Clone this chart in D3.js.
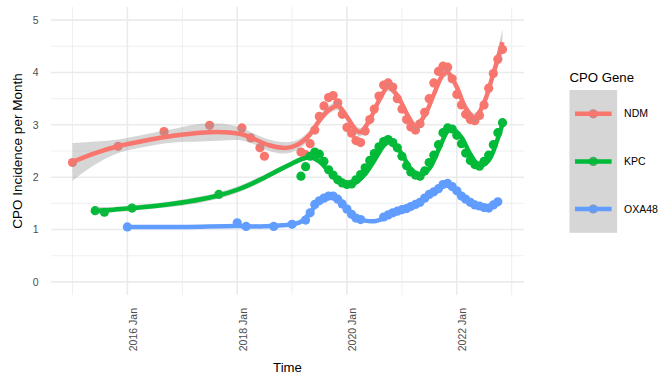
<!DOCTYPE html>
<html>
<head>
<meta charset="utf-8">
<script src="https://cdn.jsdelivr.net/npm/d3@7"></script>
<style>
  html, body { margin: 0; padding: 0; background: #ffffff; }
  svg { display: block; font-family: "Liberation Sans", Arial, sans-serif; }
</style>
</head>
<body>
<svg id="chart" width="659" height="376"></svg>
<script>
// ---- Series: monthly CPO incidence per gene ----
const genes = ["NDM", "KPC", "OXA48"];
const geneColors = ["#F8766D", "#00BA38", "#619CFF"];

const ndmMonths = [
  "2015-01","2015-11","2016-09","2017-07","2018-02","2018-04","2018-06","2018-07",
  "2019-03","2019-04","2019-05","2019-06","2019-07","2019-08","2019-09","2019-10","2019-11","2019-12",
  "2020-01","2020-02","2020-03","2020-04","2020-05","2020-06","2020-07","2020-08","2020-09","2020-10","2020-11","2020-12",
  "2021-01","2021-02","2021-03","2021-04","2021-05","2021-06","2021-07","2021-08","2021-09","2021-10","2021-11","2021-12",
  "2022-01","2022-02","2022-03","2022-04","2022-05","2022-06","2022-07","2022-08","2022-09","2022-10","2022-11"
];
const ndmIncidence = [
  2.28, 2.59, 2.87, 2.99, 2.94, 2.75, 2.56, 2.40,
  2.48, 2.43, 2.64, 2.90, 3.16, 3.36, 3.52, 3.56, 3.42, 3.20,
  2.95, 2.84, 2.70, 2.66, 2.88, 3.10, 3.30, 3.55, 3.76, 3.80, 3.72, 3.50,
  3.30, 3.10, 2.96, 2.90, 3.02, 3.24, 3.50, 3.80, 4.02, 4.12, 4.10, 3.88,
  3.58, 3.38, 3.20, 3.10, 3.08, 3.18, 3.38, 3.70, 3.98, 4.25, 4.44
];

const kpcMonths = [
  "2015-06","2015-08","2016-02","2017-09",
  "2019-03","2019-04","2019-05","2019-06","2019-07","2019-08","2019-09","2019-10","2019-11","2019-12",
  "2020-01","2020-02","2020-03","2020-04","2020-05","2020-06","2020-07","2020-08","2020-09","2020-10","2020-11","2020-12",
  "2021-01","2021-02","2021-03","2021-04","2021-05","2021-06","2021-07","2021-08","2021-09","2021-10","2021-11","2021-12",
  "2022-01","2022-02","2022-03","2022-04","2022-05","2022-06","2022-07","2022-08","2022-09","2022-10","2022-11"
];
const kpcIncidence = [
  1.36, 1.33, 1.41, 1.67,
  2.02, 2.20, 2.40, 2.48, 2.44, 2.30, 2.14, 2.04, 1.95, 1.89,
  1.86, 1.87, 1.95, 2.05, 2.18, 2.32, 2.45, 2.58, 2.68, 2.72, 2.66, 2.56,
  2.40, 2.22, 2.10, 2.04, 2.02, 2.12, 2.28, 2.42, 2.62, 2.85, 2.94, 2.92,
  2.80, 2.64, 2.46, 2.32, 2.24, 2.21, 2.30, 2.42, 2.62, 2.85, 3.04
];

const oxaMonths = [
  "2016-01","2018-01","2018-03","2018-09","2019-01",
  "2019-04","2019-05","2019-06","2019-07","2019-08","2019-09","2019-10","2019-11","2019-12",
  "2020-01","2020-02","2020-03","2020-04","2020-09","2020-10","2020-11","2020-12",
  "2021-01","2021-02","2021-03","2021-04","2021-05","2021-06","2021-07","2021-08","2021-09","2021-10","2021-11","2021-12",
  "2022-01","2022-02","2022-03","2022-04","2022-05","2022-06","2022-07","2022-08","2022-09","2022-10"
];
const oxaIncidence = [
  1.05, 1.13, 1.06, 1.06, 1.10,
  1.18, 1.32, 1.48, 1.55, 1.60, 1.64, 1.64, 1.58, 1.49,
  1.39, 1.29, 1.22, 1.19, 1.24, 1.28, 1.32, 1.35,
  1.38, 1.40, 1.44, 1.48, 1.52, 1.60, 1.67, 1.72, 1.78, 1.86, 1.88, 1.82,
  1.74, 1.64, 1.58, 1.52, 1.47, 1.45, 1.42, 1.41, 1.47, 1.53
];

// ---- Smoothed trend with confidence band (fit, half-width) ----
const ndmFitMonths = [
  "2015-01","2015-06","2015-11","2016-05","2016-11","2017-05","2017-10","2018-02","2018-05","2018-08","2018-11",
  "2019-01","2019-03","2019-05","2019-07","2019-09","2019-11","2020-01","2020-03","2020-04","2020-06","2020-08",
  "2020-10","2020-12","2021-02","2021-04","2021-06","2021-08","2021-10","2021-11","2022-01","2022-03","2022-05",
  "2022-07","2022-09","2022-11"
];
const ndmFit = [
  2.29, 2.46, 2.59, 2.70, 2.79, 2.85, 2.86, 2.82, 2.72, 2.61, 2.56,
  2.58, 2.66, 2.82, 3.08, 3.28, 3.36, 3.15, 2.90, 2.86, 3.10, 3.46,
  3.72, 3.56, 3.22, 2.98, 3.18, 3.58, 3.96, 4.00, 3.72, 3.32, 3.14,
  3.42, 3.98, 4.58
];
const ndmFitSE = [
  0.36, 0.22, 0.13, 0.12, 0.13, 0.17, 0.16, 0.12, 0.10, 0.11, 0.11,
  0.10, 0.09, 0.08, 0.08, 0.08, 0.08, 0.08, 0.08, 0.08, 0.08, 0.08,
  0.08, 0.08, 0.08, 0.08, 0.08, 0.08, 0.08, 0.08, 0.08, 0.08, 0.08,
  0.09, 0.12, 0.25
];

const kpcFitMonths = [
  "2015-06","2015-10","2016-02","2016-08","2017-02","2017-08","2018-01","2018-06","2018-10",
  "2019-01","2019-03","2019-05","2019-07","2019-09","2019-11","2020-01","2020-03","2020-05","2020-07",
  "2020-09","2020-10","2020-11","2021-01","2021-03","2021-05","2021-07","2021-09","2021-11","2021-12",
  "2022-02","2022-04","2022-06","2022-08","2022-10","2022-11"
];
const kpcFit = [
  1.36, 1.38, 1.41, 1.46, 1.53, 1.63, 1.76, 1.95, 2.13,
  2.26, 2.34, 2.38, 2.30, 2.12, 1.96, 1.88, 1.90, 2.06, 2.32,
  2.60, 2.67, 2.66, 2.44, 2.16, 2.04, 2.16, 2.52, 2.88, 2.92,
  2.76, 2.44, 2.22, 2.32, 2.74, 3.02
];
const kpcFitSE = [
  0.07, 0.05, 0.05, 0.05, 0.06, 0.06, 0.06, 0.06, 0.05,
  0.05, 0.05, 0.05, 0.05, 0.05, 0.05, 0.05, 0.05, 0.05, 0.05,
  0.05, 0.05, 0.05, 0.05, 0.05, 0.05, 0.05, 0.05, 0.05, 0.05,
  0.05, 0.05, 0.05, 0.05, 0.06, 0.10
];

const oxaFitMonths = [
  "2016-01","2017-01","2018-01","2018-06","2018-11","2019-01","2019-03","2019-05","2019-07","2019-09","2019-11",
  "2020-01","2020-03","2020-05","2020-07","2020-09","2020-11","2021-01","2021-03","2021-05","2021-07","2021-09",
  "2021-11","2022-01","2022-03","2022-05","2022-07","2022-09","2022-10"
];
const oxaFit = [
  1.05, 1.05, 1.07, 1.06, 1.08, 1.10, 1.15, 1.32, 1.54, 1.63, 1.57,
  1.40, 1.24, 1.17, 1.16, 1.21, 1.29, 1.37, 1.45, 1.54, 1.65, 1.77,
  1.86, 1.75, 1.58, 1.47, 1.42, 1.46, 1.52
];
const oxaFitSE = oxaFitMonths.map(() => 0.02);

const yTicks = [0, 1, 2, 3, 4, 5];
const yMinorTicks = [0.5, 1.5, 2.5, 3.5, 4.5];
const xTickMonths = ["2016-01", "2018-01", "2020-01", "2022-01"];
const xMinorMonths = ["2015-01", "2017-01", "2019-01", "2021-01", "2023-01"];

// ---- Assemble ----
const parse = d3.timeParse("%Y-%m");
const zip = (months, vals) => months.map((m, i) => ({ date: parse(m), value: vals[i] }));
const zipFit = (months, fit, se) => months.map((m, i) => ({ date: parse(m), fit: fit[i], lo: fit[i] - se[i], hi: fit[i] + se[i] }));

const series = [
  { gene: genes[0], color: geneColors[0], points: zip(ndmMonths, ndmIncidence), smooth: zipFit(ndmFitMonths, ndmFit, ndmFitSE) },
  { gene: genes[1], color: geneColors[1], points: zip(kpcMonths, kpcIncidence), smooth: zipFit(kpcFitMonths, kpcFit, kpcFitSE) },
  { gene: genes[2], color: geneColors[2], points: zip(oxaMonths, oxaIncidence), smooth: zipFit(oxaFitMonths, oxaFit, oxaFitSE) }
];

const panel = { left: 51, right: 524, top: 7, bottom: 295 };
const svg = d3.select("#chart");

// x: data extent with 5% padding on each side
const allDates = series.flatMap(s => s.points.map(p => +p.date));
const dMin = d3.min(allDates), dMax = d3.max(allDates);
const pad = (dMax - dMin) * 0.05;
const x = d3.scaleTime().domain([new Date(dMin - pad), new Date(dMax + pad)]).range([panel.left, panel.right]);
const y = d3.scaleLinear().domain([-0.25, 5.25]).range([panel.bottom, panel.top]);

// ---- Grid ----
const grid = svg.append("g");
grid.selectAll(".ymin").data(yMinorTicks).join("line")
  .attr("x1", panel.left).attr("x2", panel.right)
  .attr("y1", d => y(d)).attr("y2", d => y(d))
  .attr("stroke", "#ebebeb").attr("stroke-width", 0.8);
grid.selectAll(".xmin").data(xMinorMonths.map(parse)).join("line")
  .attr("x1", d => x(d)).attr("x2", d => x(d))
  .attr("y1", panel.top).attr("y2", panel.bottom)
  .attr("stroke", "#ebebeb").attr("stroke-width", 0.8);
grid.selectAll(".ymaj").data(yTicks).join("line")
  .attr("x1", panel.left).attr("x2", panel.right)
  .attr("y1", d => y(d)).attr("y2", d => y(d))
  .attr("stroke", "#ebebeb").attr("stroke-width", 1.6);
grid.selectAll(".xmaj").data(xTickMonths.map(parse)).join("line")
  .attr("x1", d => x(d)).attr("x2", d => x(d))
  .attr("y1", panel.top).attr("y2", panel.bottom)
  .attr("stroke", "#ebebeb").attr("stroke-width", 1.6);

// ---- Axes ----
const yAxis = svg.append("g").attr("transform", `translate(${panel.left},0)`)
  .call(d3.axisLeft(y).tickValues(yTicks).tickSize(0).tickPadding(12.5).tickFormat(d3.format("d")));
yAxis.select(".domain").remove();
yAxis.selectAll("text").attr("fill", "#4d4d4d").attr("font-size", "10.5px")
  .attr("font-family", "Liberation Sans, Arial, sans-serif");

const xAxis = svg.append("g").attr("transform", `translate(0,${panel.bottom})`)
  .call(d3.axisBottom(x).tickValues(xTickMonths.map(parse)).tickSize(0).tickFormat(d3.timeFormat("%Y %b")));
xAxis.select(".domain").remove();
xAxis.selectAll("text")
  .attr("transform", "rotate(-90)")
  .attr("x", -13).attr("y", 9).attr("dy", 0)
  .attr("text-anchor", "end")
  .attr("fill", "#4d4d4d").attr("font-size", "10.5px")
  .attr("font-family", "Liberation Sans, Arial, sans-serif");

svg.append("text")
  .attr("x", (panel.left + panel.right) / 2).attr("y", 372)
  .attr("text-anchor", "middle").attr("font-size", "13.2px").attr("fill", "#000")
  .text("Time");
svg.append("text")
  .attr("transform", `translate(22,${(panel.top + panel.bottom) / 2}) rotate(-90)`)
  .attr("text-anchor", "middle").attr("font-size", "13.5px").attr("fill", "#000")
  .text("CPO Incidence per Month");

// ---- Marks: points, then band + trend line per gene ----
const marks = svg.append("g");
series.forEach(s => {
  marks.append("g").selectAll("circle").data(s.points).join("circle")
    .attr("cx", d => x(d.date)).attr("cy", d => y(d.value))
    .attr("r", 4.6).attr("fill", s.color);
});

const area = d3.area().curve(d3.curveCatmullRom.alpha(0.5))
  .x(d => x(d.date)).y0(d => y(d.lo)).y1(d => y(d.hi));
const line = d3.line().curve(d3.curveCatmullRom.alpha(0.5))
  .x(d => x(d.date)).y(d => y(d.fit));

series.forEach(s => {
  marks.append("path").datum(s.smooth).attr("d", area)
    .attr("fill", "#999999").attr("fill-opacity", 0.4);
  marks.append("path").datum(s.smooth).attr("d", line)
    .attr("fill", "none").attr("stroke", s.color).attr("stroke-width", 4.5)
    .attr("stroke-linecap", "butt").attr("stroke-linejoin", "round");
});

// ---- Legend ----
const legend = svg.append("g").attr("transform", "translate(569.5,0)");
legend.append("text").attr("x", 0).attr("y", 82)
  .attr("font-size", "13.2px").attr("fill", "#000").text("CPO Gene");
const keySize = 47.6, keyTop = 90;
series.forEach((s, i) => {
  const cy = keyTop + keySize * i + keySize / 2;
  legend.append("circle").attr("cx", keySize / 2).attr("cy", cy).attr("r", 4.6).attr("fill", s.color);
});
legend.append("rect").attr("x", 0).attr("y", keyTop)
  .attr("width", keySize).attr("height", keySize * series.length)
  .attr("fill", "#999999").attr("fill-opacity", 0.4);
series.forEach((s, i) => {
  const cy = keyTop + keySize * i + keySize / 2;
  legend.append("line").attr("x1", 5.5).attr("x2", keySize - 5.5)
    .attr("y1", cy).attr("y2", cy).attr("stroke", s.color).attr("stroke-width", 4.5);
  legend.append("text").attr("x", keySize + 7).attr("y", cy).attr("dy", "0.35em")
    .attr("font-size", "10.5px").attr("fill", "#000").text(s.gene);
});
</script>
</body>
</html>
